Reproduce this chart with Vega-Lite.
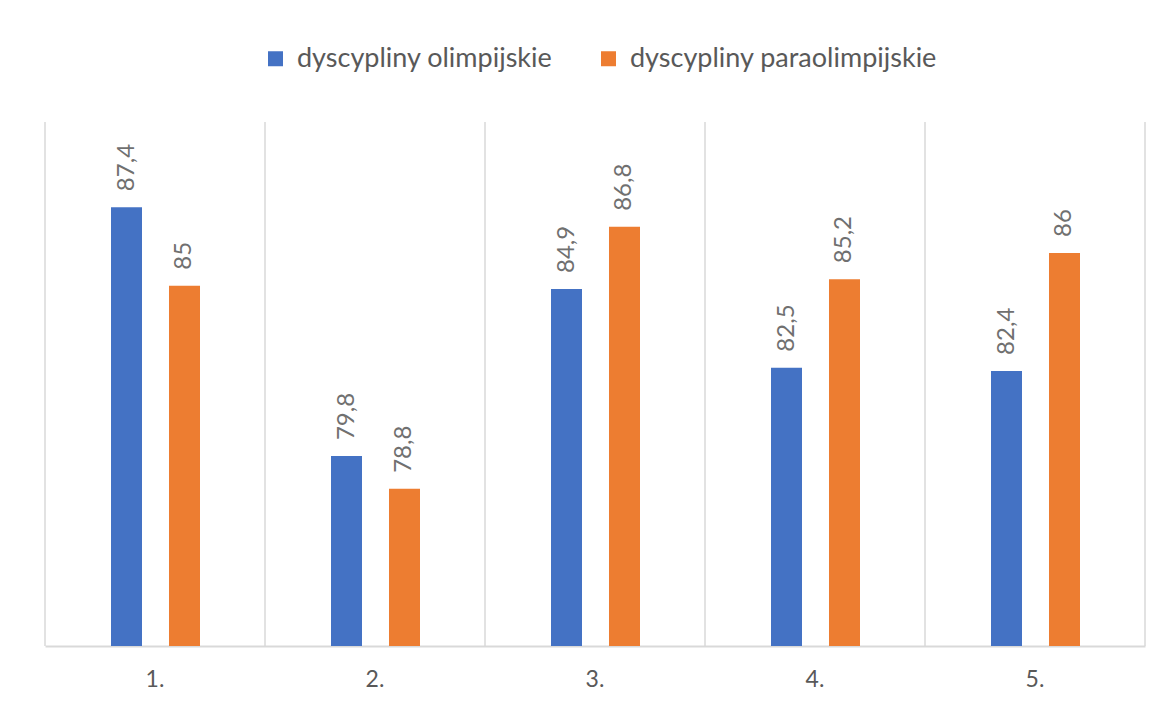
{
  "$schema": "https://vega.github.io/schema/vega-lite/v6.json",
  "autosize": "none",
  "width": 1100,
  "height": 524,
  "padding": {"left": 45, "top": 122, "right": 24, "bottom": 62},
  "background": "white",
  "config": {
    "view": {"stroke": null},
    "font": "Lato",
    "locale": {"number": {"decimal": ",", "thousands": " ", "grouping": [3], "currency": ["", " zł"]}}
  },
  "data": {
    "values": [
      {"cat": "1.", "series": "dyscypliny olimpijskie", "value": 87.4},
      {"cat": "1.", "series": "dyscypliny paraolimpijskie", "value": 85},
      {"cat": "2.", "series": "dyscypliny olimpijskie", "value": 79.8},
      {"cat": "2.", "series": "dyscypliny paraolimpijskie", "value": 78.8},
      {"cat": "3.", "series": "dyscypliny olimpijskie", "value": 84.9},
      {"cat": "3.", "series": "dyscypliny paraolimpijskie", "value": 86.8},
      {"cat": "4.", "series": "dyscypliny olimpijskie", "value": 82.5},
      {"cat": "4.", "series": "dyscypliny paraolimpijskie", "value": 85.2},
      {"cat": "5.", "series": "dyscypliny olimpijskie", "value": 82.4},
      {"cat": "5.", "series": "dyscypliny paraolimpijskie", "value": 86}
    ]
  },
  "layer": [
    {
      "transform": [{"filter": "datum.series === 'dyscypliny olimpijskie'"}],
      "mark": {"type": "rule", "color": "#d9d9d9", "strokeWidth": 1.5},
      "encoding": {
        "x": {
          "field": "cat", "type": "nominal", "bandPosition": 0, "title": null,
          "scale": {"paddingInner": 0, "paddingOuter": 0},
          "axis": {
            "labelAngle": 0, "ticks": false, "tickSize": 0,
            "domainColor": "#d9d9d9", "domainWidth": 2,
            "labelFontSize": 23, "labelColor": "#595959", "labelPadding": 22, "labelFont": "Lato"
          }
        }
      }
    },
    {
      "transform": [{"filter": "datum.series === 'dyscypliny olimpijskie' && datum.cat === '5.'"}],
      "mark": {"type": "rule", "color": "#d9d9d9", "strokeWidth": 1.5},
      "encoding": {
        "x": {"field": "cat", "type": "nominal", "bandPosition": 1}
      }
    },
    {
      "mark": {"type": "bar"},
      "encoding": {
        "x": {"field": "cat", "type": "nominal"},
        "xOffset": {"field": "series", "type": "nominal", "scale": {"range": [66, 155], "paddingInner": 0.4655, "paddingOuter": 0}, "sort": ["dyscypliny olimpijskie", "dyscypliny paraolimpijskie"]},
        "y": {"field": "value", "type": "quantitative", "scale": {"domain": [74, 90], "zero": false, "nice": false}, "axis": null},
        "y2": {"datum": 74},
        "color": {
          "field": "series", "type": "nominal",
          "scale": {"domain": ["dyscypliny olimpijskie", "dyscypliny paraolimpijskie"], "range": ["#4472C4", "#ED7D31"]},
          "legend": {
            "title": null, "orient": "none", "direction": "horizontal",
            "legendX": 217, "legendY": -77, "padding": 0,
            "symbolType": "square", "symbolSize": 225, "symbolStrokeWidth": 0,
            "labelFontSize": 27, "labelColor": "#595959", "labelFont": "Lato",
            "labelOffset": 8, "columnPadding": 42, "labelLimit": 500
          }
        }
      }
    },
    {
      "mark": {"type": "text", "angle": 270, "align": "left", "baseline": "middle", "dx": 16, "fontSize": 24, "color": "#707070", "font": "Lato"},
      "encoding": {
        "x": {"field": "cat", "type": "nominal"},
        "xOffset": {"field": "series", "type": "nominal", "sort": ["dyscypliny olimpijskie", "dyscypliny paraolimpijskie"]},
        "y": {"field": "value", "type": "quantitative"},
        "text": {"field": "value", "type": "quantitative", "format": ".1~f"}
      }
    }
  ]
}
